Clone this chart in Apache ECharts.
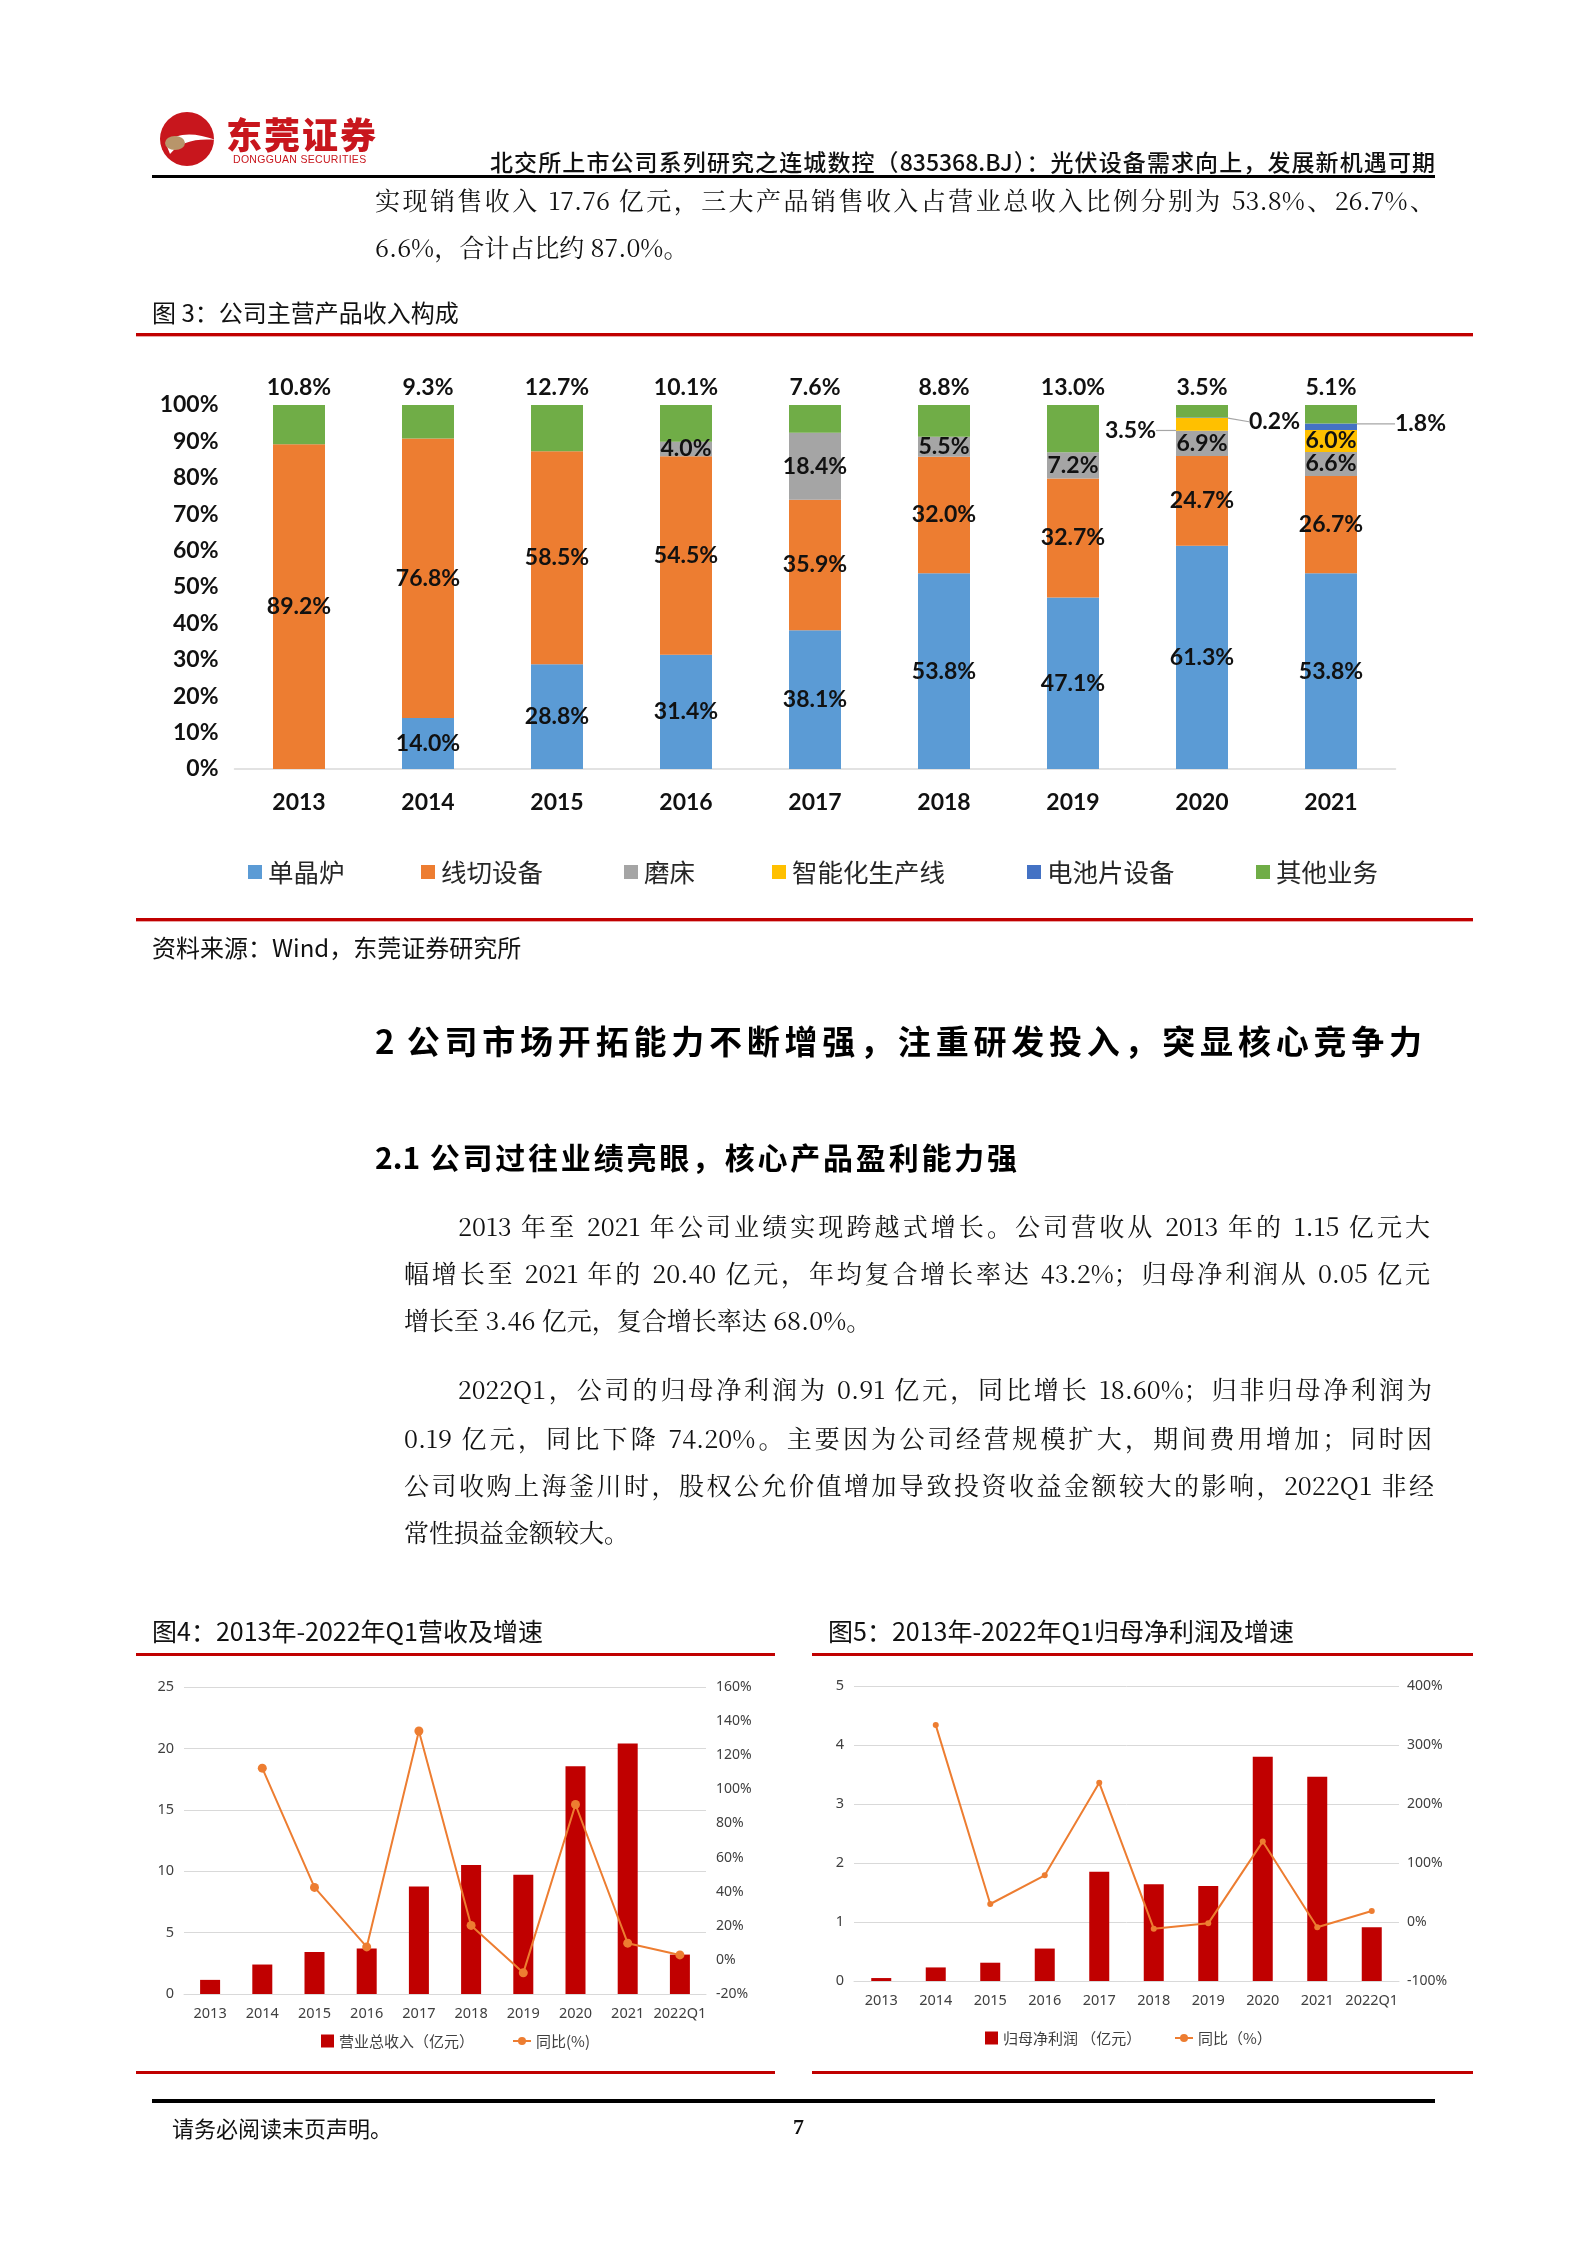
<!DOCTYPE html>
<html><head><meta charset="utf-8">
<script src="https://cdn.jsdelivr.net/npm/echarts@6/dist/echarts.min.js"></script>
<style>
html,body{margin:0;padding:0;background:#fff;}
#page{position:relative;width:1587px;height:2245px;overflow:hidden;background:#fff;}
#chart{position:absolute;left:0;top:0;width:1587px;height:2245px;z-index:1;}
.t{position:absolute;white-space:nowrap;z-index:2;color:#111;}
.body{font-family:"Noto Serif CJK SC","Liberation Serif","Noto Sans CJK SC",serif;font-size:25px;height:36px;line-height:36px;}
.j{text-align:justify;text-align-last:justify;}
.hei{font-family:"Noto Sans CJK SC",sans-serif;}
.rl{position:absolute;z-index:2;}
</style></head>
<body><div id="page">
<div id="chart"></div>

<!-- logo -->
<svg class="rl" style="left:160px;top:110px" width="58" height="58" viewBox="0 0 58 58">
<circle cx="27" cy="29" r="27" fill="#C8161D"/>
<path d="M6 34 C 16 22, 34 22, 56 30 C 36 28, 20 32, 10 44 Z" fill="#fff"/>
<ellipse cx="15" cy="33" rx="10" ry="7" fill="#B8956A"/>
</svg>
<div class="t hei" style="left:226px;top:112px;height:42px;line-height:42px;font-size:36px;font-weight:900;color:#C8161D;letter-spacing:2px">东莞证券</div>
<div class="t" style="left:233px;top:152px;height:14px;line-height:14px;font-size:10.5px;color:#C8161D;font-family:'Liberation Sans',sans-serif;letter-spacing:0.3px">DONGGUAN SECURITIES</div>

<div class="t hei j" style="left:490px;width:945px;top:145px;height:32px;line-height:32px;font-size:23px;font-weight:500;color:#111">北交所上市公司系列研究之连城数控（835368.BJ）：光伏设备需求向上，发展新机遇可期</div>
<div class="rl" style="left:152px;top:175px;width:1283px;height:3px;background:#000"></div>

<div class="t body j" style="left:375px;width:1060px;top:181px">实现销售收入 17.76 亿元，三大产品销售收入占营业总收入比例分别为 53.8%、26.7%、</div>
<div class="t body" style="left:375px;top:228px">6.6%，合计占比约 87.0%。</div>

<div class="t hei" style="left:152px;top:296px;height:32px;line-height:32px;font-size:24px;color:#111">图 3：公司主营产品收入构成</div>
<div class="rl" style="left:136px;top:333px;width:1337px;height:3px;background:#C00000"></div>
<div class="rl" style="left:136px;top:336px;width:1337px;height:1px;background:#EBA5A5"></div>

<div class="rl" style="left:136px;top:918px;width:1337px;height:3px;background:#C00000"></div>
<div class="rl" style="left:136px;top:921px;width:1337px;height:1px;background:#EBA5A5"></div>
<div class="t hei" style="left:152px;top:931px;height:32px;line-height:32px;font-size:24px;color:#111">资料来源：Wind，东莞证券研究所</div>

<div class="t hei j" style="left:375px;width:1047px;top:1018px;height:44px;line-height:44px;font-size:33px;font-weight:700;color:#000">2 公司市场开拓能力不断增强，注重研发投入，突显核心竞争力</div>
<div class="t hei j" style="left:375px;width:642px;top:1136px;height:40px;line-height:40px;font-size:30px;font-weight:700;color:#000">2.1 公司过往业绩亮眼，核心产品盈利能力强</div>

<div class="t body j" style="left:458px;width:972px;top:1207px">2013 年至 2021 年公司业绩实现跨越式增长。公司营收从 2013 年的 1.15 亿元大</div>
<div class="t body j" style="left:404px;width:1026px;top:1254px">幅增长至 2021 年的 20.40 亿元，年均复合增长率达 43.2%；归母净利润从 0.05 亿元</div>
<div class="t body" style="left:404px;top:1301px">增长至 3.46 亿元，复合增长率达 68.0%。</div>

<div class="t body j" style="left:458px;width:974px;top:1370px">2022Q1，公司的归母净利润为 0.91 亿元，同比增长 18.60%；归非归母净利润为</div>
<div class="t body j" style="left:404px;width:1028px;top:1419px">0.19 亿元，同比下降 74.20%。主要因为公司经营规模扩大，期间费用增加；同时因</div>
<div class="t body j" style="left:404px;width:1030px;top:1466px">公司收购上海釜川时，股权公允价值增加导致投资收益金额较大的影响，2022Q1 非经</div>
<div class="t body" style="left:404px;top:1513px">常性损益金额较大。</div>

<div class="t hei" style="left:152px;top:1614px;height:32px;line-height:32px;font-size:25px;color:#111">图4：2013年-2022年Q1营收及增速</div>
<div class="t hei" style="left:828px;top:1614px;height:32px;line-height:32px;font-size:25px;color:#111">图5：2013年-2022年Q1归母净利润及增速</div>
<div class="rl" style="left:136px;top:1653px;width:639px;height:3px;background:#C00000"></div>
<div class="rl" style="left:812px;top:1653px;width:661px;height:3px;background:#C00000"></div>
<div class="rl" style="left:136px;top:2071px;width:639px;height:3px;background:#C00000"></div>
<div class="rl" style="left:812px;top:2071px;width:661px;height:3px;background:#C00000"></div>

<div class="rl" style="left:152px;top:2099px;width:1283px;height:4px;background:#000"></div>
<div class="t hei" style="left:172px;top:2112px;height:30px;line-height:30px;font-size:22px;color:#111">请务必阅读末页声明。</div>
<div class="t" style="left:793px;top:2112px;height:30px;line-height:30px;font-size:22px;font-weight:700;font-family:'Liberation Serif',serif;color:#111">7</div>
</div>

<script>
// ---- Figure 3 data (share of revenue, %) ----
const years3 = ['2013','2014','2015','2016','2017','2018','2019','2020','2021'];
const danJingLu   = [0, 14.0, 28.8, 31.4, 38.1, 53.8, 47.1, 61.3, 53.8];
const xianQie     = [89.2, 76.8, 58.5, 54.5, 35.9, 32.0, 32.7, 24.7, 26.7];
const moChuang    = [0, 0, 0, 4.0, 18.4, 5.5, 7.2, 6.9, 6.6];
const zhiNeng     = [0, 0, 0, 0, 0, 0, 0, 3.5, 6.0];
const dianChiPian = [0, 0, 0, 0, 0, 0, 0, 0.2, 1.8];
const qiTa        = [10.8, 9.3, 12.7, 10.1, 7.6, 8.8, 13.0, 3.5, 5.1];
const names3 = ['单晶炉','线切设备','磨床','智能化生产线','电池片设备','其他业务'];

// ---- Figure 4 / 5 data ----
const years45 = ['2013','2014','2015','2016','2017','2018','2019','2020','2021','2022Q1'];
const revenue      = [1.15, 2.40, 3.43, 3.70, 8.76, 10.50, 9.71, 18.55, 20.40, 3.21];
const revenueYoY   = [null, 112.4, 42.5, 7.6, 134.2, 20.2, -7.6, 91.1, 9.8, 2.9];
const netProfit    = [0.05, 0.23, 0.31, 0.55, 1.85, 1.64, 1.61, 3.80, 3.46, 0.91];
const netProfitYoY = [null, 333.7, 30.5, 79.2, 235.9, -11.3, -2.3, 136.3, -9.0, 18.6];

const colors3 = ['#5B9BD5','#ED7D31','#A5A5A5','#FFC000','#4472C4','#70AD47'];
const values3 = [danJingLu, xianQie, moChuang, zhiNeng, dianChiPian, qiTa];
// labels moved outside with a guide line (style only)
const leaders = {
  3: {7: {side:'left', gap:20, dy:6}},
  4: {7: {side:'right', gap:21, dy:4}, 8: {side:'right', gap:38, dy:-3}}
};

const LAT = 'Lato, "Noto Sans", sans-serif';
const CJK = '"Noto Sans CJK SC", sans-serif';

const chart = echarts.init(document.getElementById('chart'), null, {renderer:'canvas'});

const series = [];
values3.forEach((vals, si) => {
  const L = leaders[si] || {};
  series.push({
    name: names3[si], type:'bar', stack:'s3', xAxisIndex:0, yAxisIndex:0,
    barWidth: 52, itemStyle:{color: colors3[si]},
    data: vals.map((v,i) => L[i] ? {value:v, labelLine:{show:true, lineStyle:{color:'#A6A6A6', width:1.2}}} : v),
    label: {
      show:true, position: si === 5 ? 'top' : 'inside', distance: 6,
      formatter: p => (p.value > 0 ? p.value.toFixed(1) + '%' : ''),
      fontFamily: LAT, fontWeight:'bold', fontSize:23, color:'#111'
    },
    labelLayout: function(p){
      const d = L[p.dataIndex];
      if (!d) return {};
      const cy = p.rect.y + p.rect.height/2 + d.dy;
      if (d.side === 'left') return {x: p.rect.x - d.gap, y: cy, align:'right', verticalAlign:'middle'};
      return {x: p.rect.x + p.rect.width + d.gap, y: cy, align:'left', verticalAlign:'middle'};
    },
    emphasis:{disabled:true}
  });
});

series.push({
  name:'营业总收入（亿元）', type:'bar', xAxisIndex:1, yAxisIndex:1, barWidth:20,
  itemStyle:{color:'#C00000'}, data: revenue, emphasis:{disabled:true}
});
series.push({
  name:'同比(%)', type:'line', xAxisIndex:1, yAxisIndex:2, data: revenueYoY,
  symbol:'circle', symbolSize:9, lineStyle:{color:'#ED7D31', width:2},
  itemStyle:{color:'#ED7D31'}, connectNulls:false, emphasis:{disabled:true}
});
series.push({
  name:'归母净利润 （亿元）', type:'bar', xAxisIndex:2, yAxisIndex:3, barWidth:20,
  itemStyle:{color:'#C00000'}, data: netProfit, emphasis:{disabled:true}
});
series.push({
  name:'同比（%）', type:'line', xAxisIndex:2, yAxisIndex:4, data: netProfitYoY,
  symbol:'circle', symbolSize:6, lineStyle:{color:'#ED7D31', width:2},
  itemStyle:{color:'#ED7D31'}, emphasis:{disabled:true}
});

const legendLefts3 = [248, 421, 624, 772, 1027, 1256];
const legends = names3.map((n,i) => ({
  data:[n], left: legendLefts3[i], top: 857, padding:0, icon:'rect',
  itemWidth:14, itemHeight:14, itemGap:0, selectedMode:false,
  textStyle:{fontFamily:CJK, fontSize:25.5, color:'#262626', lineHeight:30, padding:[0,0,0,1]}
}));
const smallLegend = (name, left, top, isLine) => ({
  data:[name], left, top, padding:0, selectedMode:false,
  icon: isLine ? undefined : 'rect',
  itemWidth: isLine ? 18 : 13, itemHeight: isLine ? 10 : 13, itemGap:0,
  textStyle:{fontFamily:CJK, fontSize:15, color:'#404040', lineHeight:18}
});
legends.push(smallLegend('营业总收入（亿元）', 321, 2032, false));
legends.push(smallLegend('同比(%)', 512, 2032, true));
legends.push(smallLegend('归母净利润 （亿元）', 985, 2029, false));
legends.push(smallLegend('同比（%）', 1174, 2029, true));

const smallAxisLabel = {fontFamily:'"Noto Sans", sans-serif', fontSize:14.5, color:'#404040'};
const gridLine = {show:true, lineStyle:{color:'#D9D9D9', width:1}};

const option = {
  animation:false,
  backgroundColor:'transparent',
  grid:[
    {left:234.5, top:405, width:1161, height:364, outerBoundsMode:'none', containLabel:false},
    {left:184, top:1687, width:522, height:307, outerBoundsMode:'none', containLabel:false},
    {left:854, top:1686, width:545, height:295, outerBoundsMode:'none', containLabel:false}
  ],
  legend: legends,
  xAxis:[
    {type:'category', gridIndex:0, data: years3, axisTick:{show:false},
     axisLine:{lineStyle:{color:'#D9D9D9', width:1.5}},
     axisLabel:{fontFamily:LAT, fontWeight:'bold', fontSize:23, color:'#111', margin:22, interval:0}},
    {type:'category', gridIndex:1, data: years45, axisTick:{show:false},
     axisLine:{lineStyle:{color:'#D9D9D9'}}, axisLabel:Object.assign({margin:12, interval:0, hideOverlap:false}, smallAxisLabel)},
    {type:'category', gridIndex:2, data: years45, axisTick:{show:false},
     axisLine:{lineStyle:{color:'#D9D9D9'}}, axisLabel:Object.assign({margin:12, interval:0, hideOverlap:false}, smallAxisLabel)}
  ],
  yAxis:[
    {type:'value', gridIndex:0, min:0, max:100, interval:10, splitLine:{show:false},
     axisLine:{show:false}, axisTick:{show:false},
     axisLabel:{formatter:'{value}%', fontFamily:LAT, fontWeight:'bold', fontSize:23, color:'#111', margin:16}},
    {type:'value', gridIndex:1, min:0, max:25, interval:5, splitLine:gridLine,
     axisLine:{show:false}, axisTick:{show:false}, axisLabel:Object.assign({margin:10}, smallAxisLabel)},
    {type:'value', gridIndex:1, position:'right', min:-20, max:160, interval:20, splitLine:{show:false},
     axisLine:{show:false}, axisTick:{show:false},
     axisLabel:Object.assign({formatter:'{value}%', margin:10}, smallAxisLabel, {fontSize:14})},
    {type:'value', gridIndex:2, min:0, max:5, interval:1, splitLine:gridLine,
     axisLine:{show:false}, axisTick:{show:false}, axisLabel:Object.assign({margin:10}, smallAxisLabel)},
    {type:'value', gridIndex:2, position:'right', min:-100, max:400, interval:100, splitLine:{show:false},
     axisLine:{show:false}, axisTick:{show:false},
     axisLabel:Object.assign({formatter:'{value}%', margin:8}, smallAxisLabel, {fontSize:14})}
  ],
  series: series
};
chart.setOption(option);
</script>
</body></html>
